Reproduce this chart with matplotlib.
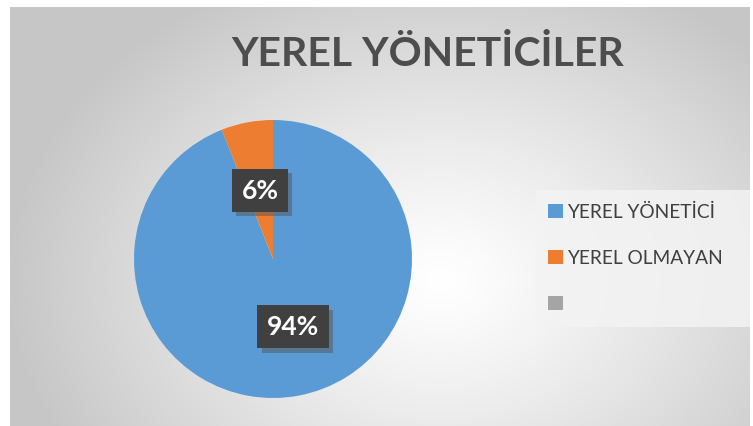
import matplotlib
matplotlib.use("Agg")
import matplotlib.pyplot as plt
import matplotlib.patheffects as pe
from matplotlib.patches import Rectangle, Patch
import numpy as np

# ---------- data ----------
categories = ["YEREL YÖNETİCİ", "YEREL OLMAYAN", ""]
values = [94, 6]
colors = ["#5B9BD5", "#ED7D31", "#A5A5A5"]
title = "YEREL YÖNETİCİLER"

W, H = 753, 426
fig = plt.figure(figsize=(W / 100, H / 100), dpi=100)
fig.patch.set_facecolor("white")

# ---------- chart area background (radial gradient) ----------
x0, y0, x1, y1 = 10, 7, 750, 426
bg = fig.add_axes([x0 / W, 1 - y1 / H, (x1 - x0) / W, (y1 - y0) / H])
yy, xx = np.mgrid[y0:y1, x0:x1]
cx, cy = 440, 280
r = np.sqrt(((xx - cx) / 430.0) ** 2 + ((yy - cy) / 330.0) ** 2)
r = np.clip(r, 0, 1)
shade = 1.0 - 0.22 * r ** 1.2
bg.imshow(np.dstack([shade] * 3), aspect="auto", interpolation="bilinear")
bg.set_axis_off()

# ---------- pie ----------
pcx, pcy, pr = 273, 259, 139
ax = fig.add_axes([(pcx - pr) / W, (H - pcy - pr) / H, 2 * pr / W, 2 * pr / H])
wedges, texts, autotexts = ax.pie(
    values, colors=colors[:2], startangle=90, counterclock=False,
    autopct="%d%%", pctdistance=0.5, radius=1,
    wedgeprops=dict(linewidth=0),
    textprops=dict(color="white", fontsize=19, fontweight="bold", family="Lato"))
ax.set_xlim(-1, 1)
ax.set_ylim(-1, 1)
ax.set_aspect("auto")
ax.set_axis_off()

for t in autotexts:
    t.set_bbox(dict(boxstyle="square,pad=0.36", facecolor="#404040", edgecolor="none"))
    t.get_bbox_patch().set_path_effects([
        pe.SimplePatchShadow(offset=(3, -3), shadow_rgbFace="#555555", alpha=0.5),
        pe.Normal()])
# nudge 94% label a bit right as in reference
autotexts[0].set_position((0.144, -0.489))

# ---------- title ----------
fig.text(428 / W, 1 - 55 / H, title, ha="center", va="center",
         fontsize=29.5, fontweight="bold", color="#4D4D4D", family="Lato")

# ---------- legend ----------
lx0, ly0, lx1, ly1 = 536, 190, 750, 327
fig.patches.append(Rectangle((lx0 / W, 1 - ly1 / H), (lx1 - lx0) / W, (ly1 - ly0) / H,
                             transform=fig.transFigure, facecolor="#F3F3F3",
                             edgecolor="none", alpha=0.85, zorder=1))
handles = [Patch(facecolor=c, edgecolor="none") for c in colors]
leg = fig.legend(handles, categories, loc="center left",
                 bbox_to_anchor=(531 / W, 1 - 258 / H), frameon=False,
                 labelcolor="#404040", handlelength=0.75,
                 handleheight=0.75, handletextpad=0.25, labelspacing=1.5,
                 prop=dict(family="Lato", size=13.8))

fig.savefig("out.png", dpi=100)
